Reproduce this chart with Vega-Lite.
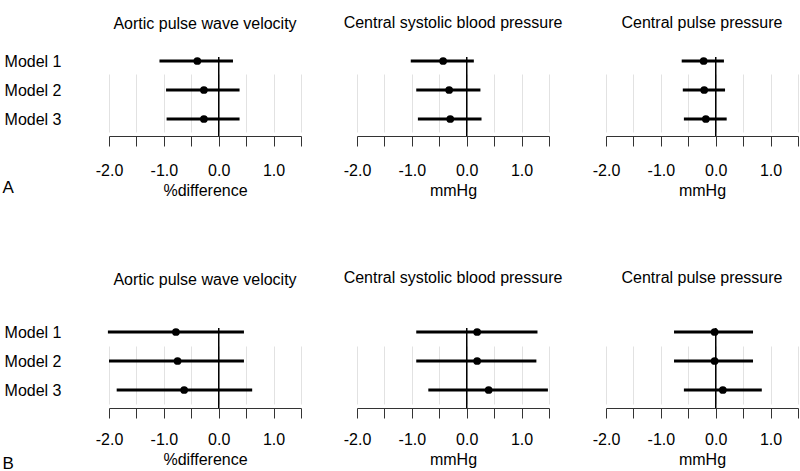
{
  "$schema": "https://vega.github.io/schema/vega-lite/v6.json",
  "padding": {"left": 2, "top": 14, "right": 0, "bottom": 0},
  "background": "white",
  "config": {
    "view": {"stroke": null},
    "font": "Liberation Sans",
    "title": {"fontSize": 16, "fontWeight": "normal", "color": "#000", "anchor": "middle"},
    "axis": {"labelFontSize": 16, "titleFontSize": 16, "titleFontWeight": "normal", "labelColor": "#000", "titleColor": "#000"},
    "axisX": {
      "values": [-2, -1.5, -1, -0.5, 0, 0.5, 1, 1.5],
      "labelExpr": "datum.value % 1 == 0 ? (datum.value < 0 ? '-' : '') + format(abs(datum.value), '.1f') : ''",
      "grid": true, "gridColor": "#e2e2e2", "gridWidth": 1,
      "domainColor": "#333", "tickColor": "#333", "tickSize": 10,
      "labelPadding": 16, "titlePadding": 4, "labelFlush": false
    }
  },
  "datasets": {
    "d": [
      {"panel": "A", "outcome": "pwv", "model": "Model 1", "est": -0.39, "lo": -1.08, "hi": 0.26},
      {"panel": "A", "outcome": "pwv", "model": "Model 2", "est": -0.27, "lo": -0.96, "hi": 0.38},
      {"panel": "A", "outcome": "pwv", "model": "Model 3", "est": -0.27, "lo": -0.95, "hi": 0.38},
      {"panel": "A", "outcome": "csbp", "model": "Model 1", "est": -0.43, "lo": -1.02, "hi": 0.13},
      {"panel": "A", "outcome": "csbp", "model": "Model 2", "est": -0.32, "lo": -0.92, "hi": 0.25},
      {"panel": "A", "outcome": "csbp", "model": "Model 3", "est": -0.30, "lo": -0.89, "hi": 0.27},
      {"panel": "A", "outcome": "cpp", "model": "Model 1", "est": -0.22, "lo": -0.62, "hi": 0.15},
      {"panel": "A", "outcome": "cpp", "model": "Model 2", "est": -0.21, "lo": -0.60, "hi": 0.17},
      {"panel": "A", "outcome": "cpp", "model": "Model 3", "est": -0.18, "lo": -0.58, "hi": 0.20},
      {"panel": "B", "outcome": "pwv", "model": "Model 1", "est": -0.78, "lo": -2.02, "hi": 0.46},
      {"panel": "B", "outcome": "pwv", "model": "Model 2", "est": -0.75, "lo": -2.00, "hi": 0.46},
      {"panel": "B", "outcome": "pwv", "model": "Model 3", "est": -0.63, "lo": -1.86, "hi": 0.61},
      {"panel": "B", "outcome": "csbp", "model": "Model 1", "est": 0.19, "lo": -0.92, "hi": 1.29},
      {"panel": "B", "outcome": "csbp", "model": "Model 2", "est": 0.19, "lo": -0.92, "hi": 1.27},
      {"panel": "B", "outcome": "csbp", "model": "Model 3", "est": 0.40, "lo": -0.70, "hi": 1.48},
      {"panel": "B", "outcome": "cpp", "model": "Model 1", "est": -0.02, "lo": -0.76, "hi": 0.68},
      {"panel": "B", "outcome": "cpp", "model": "Model 2", "est": -0.02, "lo": -0.76, "hi": 0.68},
      {"panel": "B", "outcome": "cpp", "model": "Model 3", "est": 0.13, "lo": -0.58, "hi": 0.84}
    ]
  },
  "vconcat": [
    {
      "spacing": 41,
      "hconcat": [
        {
          "width": 192, "height": 79,
          "title": {"text": "Aortic pulse wave velocity", "offset": 21},
          "data": {"name": "d"},
          "transform": [{"filter": "datum.panel == 'A' && datum.outcome == 'pwv'"}],
          "layer": [
            {"mark": {"type": "rule", "color": "#000", "strokeWidth": 3},
             "encoding": {
               "x": {"field": "lo", "type": "quantitative", "scale": {"domain": [-2, 1.5], "nice": false, "zero": false}, "axis": {"title": "%difference"}},
               "x2": {"field": "hi"},
               "y": {"field": "model", "type": "nominal", "scale": {"type": "point", "range": [4, 62], "padding": 0},
                     "axis": {"title": "A", "titleAngle": 0, "titleAlign": "left", "titleBaseline": "alphabetic", "titleX": -107, "titleY": 135, "titleFontSize": 17, "labelPadding": 48, "ticks": false, "domain": false, "grid": false}}}},
            {"mark": {"type": "rule", "color": "#000", "strokeWidth": 1}, "encoding": {"x": {"datum": 0, "type": "quantitative"}}},
            {"mark": {"type": "circle", "color": "#000", "opacity": 1, "size": 60},
             "encoding": {"x": {"field": "est", "type": "quantitative"}, "y": {"field": "model", "type": "nominal"}}}
          ]
        },
        {
          "spacing": 29,
          "hconcat": [
            {
              "width": 192, "height": 79,
              "title": {"text": "Central systolic blood pressure", "offset": 26},
              "data": {"name": "d"},
              "transform": [{"filter": "datum.panel == 'A' && datum.outcome == 'csbp'"}],
              "layer": [
                {"mark": {"type": "rule", "color": "#000", "strokeWidth": 3},
                 "encoding": {
                   "x": {"field": "lo", "type": "quantitative", "scale": {"domain": [-2, 1.5], "nice": false, "zero": false}, "axis": {"title": "mmHg"}},
                   "x2": {"field": "hi"},
                   "y": {"field": "model", "type": "nominal", "scale": {"type": "point", "range": [4, 62], "padding": 0}, "axis": null}}},
                {"mark": {"type": "rule", "color": "#000", "strokeWidth": 1}, "encoding": {"x": {"datum": 0, "type": "quantitative"}}},
                {"mark": {"type": "circle", "color": "#000", "opacity": 1, "size": 60},
                 "encoding": {"x": {"field": "est", "type": "quantitative"}, "y": {"field": "model", "type": "nominal"}}}
              ]
            },
            {
              "width": 192, "height": 79,
              "title": {"text": "Central pulse pressure", "offset": 26},
              "data": {"name": "d"},
              "transform": [{"filter": "datum.panel == 'A' && datum.outcome == 'cpp'"}],
              "layer": [
                {"mark": {"type": "rule", "color": "#000", "strokeWidth": 3},
                 "encoding": {
                   "x": {"field": "lo", "type": "quantitative", "scale": {"domain": [-2, 1.5], "nice": false, "zero": false}, "axis": {"title": "mmHg"}},
                   "x2": {"field": "hi"},
                   "y": {"field": "model", "type": "nominal", "scale": {"type": "point", "range": [4, 62], "padding": 0}, "axis": null}}},
                {"mark": {"type": "rule", "color": "#000", "strokeWidth": 1}, "encoding": {"x": {"datum": 0, "type": "quantitative"}}},
                {"mark": {"type": "circle", "color": "#000", "opacity": 1, "size": 60},
                 "encoding": {"x": {"field": "est", "type": "quantitative"}, "y": {"field": "model", "type": "nominal"}}}
              ]
            }
          ]
        }
      ]
    },
    {
      "spacing": 41,
      "hconcat": [
        {
          "width": 192, "height": 80,
          "title": {"text": "Aortic pulse wave velocity", "offset": 36},
          "data": {"name": "d"},
          "transform": [{"filter": "datum.panel == 'B' && datum.outcome == 'pwv'"}],
          "layer": [
            {"mark": {"type": "rule", "color": "#000", "strokeWidth": 3},
             "encoding": {
               "x": {"field": "lo", "type": "quantitative", "scale": {"domain": [-2, 1.5], "nice": false, "zero": false}, "axis": {"title": "%difference", "labelPadding": 13}},
               "x2": {"field": "hi"},
               "y": {"field": "model", "type": "nominal", "scale": {"type": "point", "range": [4, 62], "padding": 0},
                     "axis": {"title": "B", "titleAngle": 0, "titleAlign": "left", "titleBaseline": "alphabetic", "titleX": -107, "titleY": 140, "titleFontSize": 17, "labelPadding": 48, "ticks": false, "domain": false, "grid": false}}}},
            {"mark": {"type": "rule", "color": "#000", "strokeWidth": 1}, "encoding": {"x": {"datum": 0, "type": "quantitative"}}},
            {"mark": {"type": "circle", "color": "#000", "opacity": 1, "size": 60},
             "encoding": {"x": {"field": "est", "type": "quantitative"}, "y": {"field": "model", "type": "nominal"}}}
          ]
        },
        {
          "spacing": 29,
          "hconcat": [
            {
              "width": 192, "height": 80,
              "title": {"text": "Central systolic blood pressure", "offset": 42},
              "data": {"name": "d"},
              "transform": [{"filter": "datum.panel == 'B' && datum.outcome == 'csbp'"}],
              "layer": [
                {"mark": {"type": "rule", "color": "#000", "strokeWidth": 3},
                 "encoding": {
                   "x": {"field": "lo", "type": "quantitative", "scale": {"domain": [-2, 1.5], "nice": false, "zero": false}, "axis": {"title": "mmHg", "labelPadding": 13}},
                   "x2": {"field": "hi"},
                   "y": {"field": "model", "type": "nominal", "scale": {"type": "point", "range": [4, 62], "padding": 0}, "axis": null}}},
                {"mark": {"type": "rule", "color": "#000", "strokeWidth": 1}, "encoding": {"x": {"datum": 0, "type": "quantitative"}}},
                {"mark": {"type": "circle", "color": "#000", "opacity": 1, "size": 60},
                 "encoding": {"x": {"field": "est", "type": "quantitative"}, "y": {"field": "model", "type": "nominal"}}}
              ]
            },
            {
              "width": 192, "height": 80,
              "title": {"text": "Central pulse pressure", "offset": 42},
              "data": {"name": "d"},
              "transform": [{"filter": "datum.panel == 'B' && datum.outcome == 'cpp'"}],
              "layer": [
                {"mark": {"type": "rule", "color": "#000", "strokeWidth": 3},
                 "encoding": {
                   "x": {"field": "lo", "type": "quantitative", "scale": {"domain": [-2, 1.5], "nice": false, "zero": false}, "axis": {"title": "mmHg", "labelPadding": 13}},
                   "x2": {"field": "hi"},
                   "y": {"field": "model", "type": "nominal", "scale": {"type": "point", "range": [4, 62], "padding": 0}, "axis": null}}},
                {"mark": {"type": "rule", "color": "#000", "strokeWidth": 1}, "encoding": {"x": {"datum": 0, "type": "quantitative"}}},
                {"mark": {"type": "circle", "color": "#000", "opacity": 1, "size": 60},
                 "encoding": {"x": {"field": "est", "type": "quantitative"}, "y": {"field": "model", "type": "nominal"}}}
              ]
            }
          ]
        }
      ]
    }
  ],
  "spacing": 71
}
